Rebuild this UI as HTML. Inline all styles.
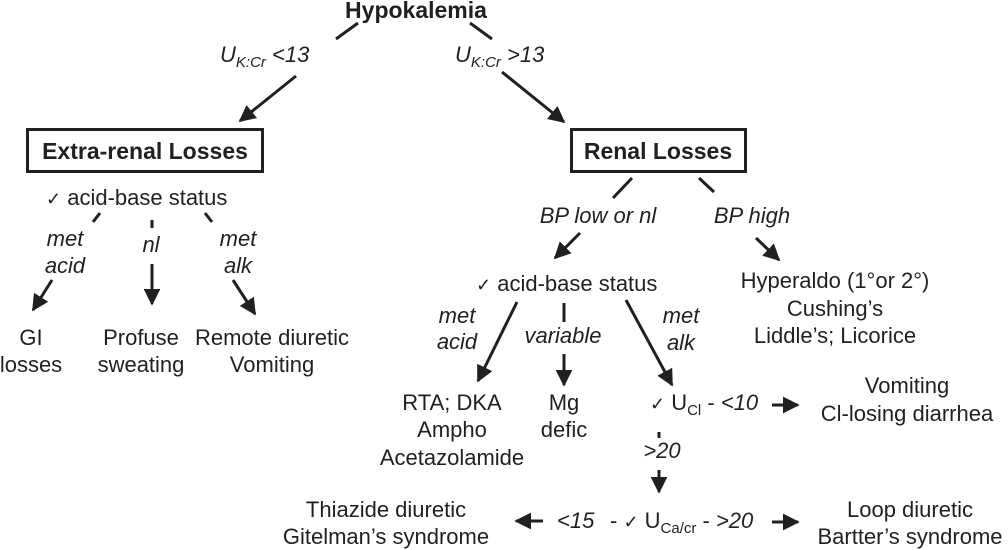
<!DOCTYPE html>
<html><head><meta charset="utf-8">
<style>
html,body{margin:0;padding:0;background:#fff;}
svg{display:block;}
text{font-family:"Liberation Sans",Arial,sans-serif;fill:#231f20;font-size:22px;}
.b{font-weight:bold;font-size:23px;}
.i{font-style:italic;}
.c{text-anchor:middle;}
line{stroke:#231f20;stroke-width:3;}
</style></head>
<body>
<svg width="1008" height="550" viewBox="0 0 1008 550">
<defs>
<marker id="ah" viewBox="0 0 10 10" refX="9" refY="5" markerWidth="5.6" markerHeight="5.6" orient="auto" markerUnits="strokeWidth">
<path d="M0,0 L10,5 L0,10 z" fill="#231f20"/>
</marker>
</defs>

<text x="416" y="18" class="b c">Hypokalemia</text>
<line x1="358" y1="23" x2="336" y2="39"/>
<line x1="470" y1="23" x2="492" y2="39"/>

<text x="220" y="62" class="i">U<tspan font-size="15" dy="5">K:Cr</tspan><tspan dy="-5"> &lt;13</tspan></text>
<text x="455" y="62" class="i">U<tspan font-size="15" dy="5">K:Cr</tspan><tspan dy="-5"> &gt;13</tspan></text>

<line x1="296" y1="76" x2="240" y2="121" marker-end="url(#ah)"/>
<line x1="502" y1="72" x2="564" y2="122" marker-end="url(#ah)"/>

<rect x="27.5" y="129.5" width="235" height="42" fill="none" stroke="#231f20" stroke-width="3"/>
<text x="145" y="159" class="b c">Extra-renal Losses</text>
<rect x="571.5" y="129.5" width="174" height="42" fill="none" stroke="#231f20" stroke-width="3"/>
<text x="658" y="159" class="b c">Renal Losses</text>

<text x="46" y="205"><tspan font-size="18">✓</tspan> acid-base status</text>
<line x1="100" y1="213" x2="93" y2="222"/>
<line x1="152" y1="220" x2="152" y2="228"/>
<line x1="205" y1="213" x2="212" y2="222"/>
<text x="65" y="246" class="i c">met</text>
<text x="65" y="273" class="i c">acid</text>
<text x="151" y="252" class="i c">nl</text>
<text x="238" y="246" class="i c">met</text>
<text x="238" y="273" class="i c">alk</text>
<line x1="52" y1="280" x2="33" y2="310" marker-end="url(#ah)"/>
<line x1="152" y1="264" x2="152" y2="304" marker-end="url(#ah)"/>
<line x1="233" y1="280" x2="255" y2="314" marker-end="url(#ah)"/>
<text x="31" y="345" class="c">GI</text>
<text x="31" y="372" class="c">losses</text>
<text x="141" y="345" class="c">Profuse</text>
<text x="141" y="372" class="c">sweating</text>
<text x="272" y="345" class="c">Remote diuretic</text>
<text x="272" y="372" class="c">Vomiting</text>

<line x1="632" y1="178" x2="613" y2="198"/>
<line x1="699" y1="178" x2="714" y2="192"/>
<text x="598" y="223" class="i c">BP low or nl</text>
<text x="752" y="223" class="i c">BP high</text>
<line x1="580" y1="233" x2="555" y2="258" marker-end="url(#ah)"/>
<line x1="756" y1="238" x2="779" y2="260" marker-end="url(#ah)"/>

<text x="476" y="291"><tspan font-size="18">✓</tspan> acid-base status</text>
<text x="835" y="288" class="c">Hyperaldo (1°or 2°)</text>
<text x="835" y="316" class="c">Cushing’s</text>
<text x="835" y="343" class="c">Liddle’s; Licorice</text>

<line x1="517" y1="302" x2="478" y2="381" marker-end="url(#ah)"/>
<text x="457" y="323" class="i c">met</text>
<text x="457" y="349" class="i c">acid</text>
<line x1="564" y1="303" x2="564" y2="322"/>
<text x="563" y="343" class="i c">variable</text>
<line x1="564" y1="354" x2="564" y2="385" marker-end="url(#ah)"/>
<line x1="626" y1="300" x2="672" y2="385" marker-end="url(#ah)"/>
<text x="681" y="323" class="i c">met</text>
<text x="681" y="350" class="i c">alk</text>

<text x="452" y="410" class="c">RTA; DKA</text>
<text x="452" y="437" class="c">Ampho</text>
<text x="452" y="465" class="c">Acetazolamide</text>
<text x="564" y="410" class="c">Mg</text>
<text x="564" y="437" class="c">defic</text>

<text x="650" y="410"><tspan font-size="18">✓</tspan> U<tspan font-size="15" dy="5">Cl</tspan><tspan dy="-5"> - </tspan><tspan class="i">&lt;10</tspan></text>
<line x1="772" y1="405" x2="798" y2="405" marker-end="url(#ah)"/>
<text x="907" y="393" class="c">Vomiting</text>
<text x="907" y="421" class="c">Cl-losing diarrhea</text>

<line x1="659" y1="432" x2="659" y2="438"/>
<text x="662" y="458" class="i c">&gt;20</text>
<line x1="659" y1="470" x2="659" y2="492" marker-end="url(#ah)"/>

<line x1="543" y1="521" x2="516" y2="521" marker-end="url(#ah)"/>
<text x="557" y="528" class="i">&lt;15</text>
<text x="610" y="528">- <tspan font-size="18">✓</tspan> U<tspan font-size="15" dy="5">Ca/cr</tspan><tspan dy="-5"> - </tspan><tspan class="i">&gt;20</tspan></text>
<line x1="772" y1="522" x2="798" y2="522" marker-end="url(#ah)"/>
<text x="386" y="517" class="c">Thiazide diuretic</text>
<text x="386" y="544" class="c">Gitelman’s syndrome</text>
<text x="910" y="517" class="c">Loop diuretic</text>
<text x="910" y="544" class="c">Bartter’s syndrome</text>
</svg>
</body></html>
